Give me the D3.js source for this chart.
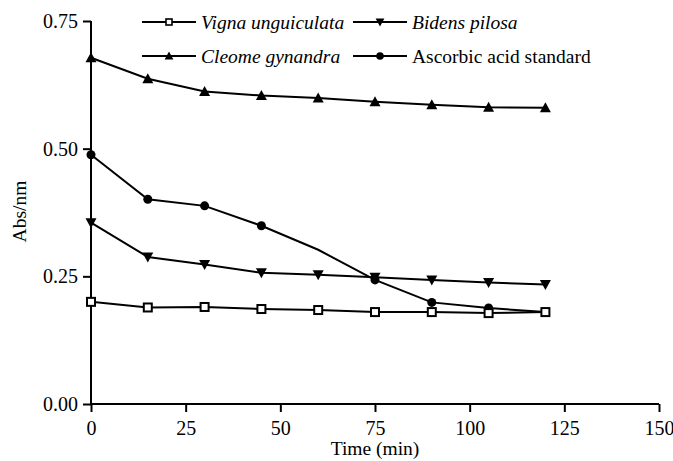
<!DOCTYPE html>
<html>
<head>
<meta charset="utf-8">
<script src="https://cdn.jsdelivr.net/npm/d3@7"></script>
<style>
  body { margin: 0; background: #fff; }
</style>
</head>
<body>
<div id="chart-area"></div>
<script>
const times = [0, 15, 30, 45, 60, 75, 90, 105, 120];
const vigna = [0.200, 0.189, 0.190, 0.186, 0.184, 0.180, 0.180, 0.178, 0.180];
const bidens = [0.355, 0.288, 0.273, 0.257, 0.253, 0.248, 0.243, 0.238, 0.234];
const cleome = [0.678, 0.637, 0.612, 0.604, 0.599, 0.592, 0.586, 0.581, 0.580];
const ascorbic = [0.488, 0.401, 0.388, 0.349, 0.302, 0.243, 0.199, 0.188, 0.180];
const xTicks = [0, 25, 50, 75, 100, 125, 150];
const yTicks = [0, 0.25, 0.5, 0.75];

const FONT = '"Liberation Serif", "Times New Roman", Times, "DejaVu Serif", serif';

const series = [
  {name: 'Vigna unguiculata', values: vigna, marker: 'square', italic: true},
  {name: 'Bidens pilosa', values: bidens, marker: 'down', italic: true},
  {name: 'Cleome gynandra', values: cleome, marker: 'up', italic: true},
  {name: 'Ascorbic acid standard', values: ascorbic, marker: 'circle', italic: false}
];

const margin = {left: 91, right: 14, top: 21, bottom: 57};
const width = 673 - margin.left - margin.right,
    height = 461 - margin.top - margin.bottom;

const svg = d3.select('#chart-area')
    .append('svg')
    .attr('width', 673)
    .attr('height', 461);

const g = svg.append('g')
    .attr('transform', 'translate(' + margin.left + ', ' + margin.top + ')');

const xScale = d3.scaleLinear().domain([0, 150]).range([0, width]);
const yScale = d3.scaleLinear().domain([0, 0.75]).range([height, 0]);

const xAxis = g.append('g')
    .attr('transform', 'translate(0, ' + height + ')')
    .call(d3.axisBottom(xScale).tickValues(xTicks).tickSize(8).tickPadding(9).tickFormat(d3.format('d')));

const yAxis = g.append('g')
    .call(d3.axisLeft(yScale).tickValues(yTicks).tickSize(8).tickPadding(5).tickFormat(d3.format('.2f')));

[xAxis, yAxis].forEach((a) => {
  a.attr('font-family', null);
  a.select('.domain').attr('stroke', '#000').attr('stroke-width', 2);
  a.selectAll('.tick line').attr('stroke', '#000').attr('stroke-width', 2);
  a.selectAll('.tick text')
      .style('font-family', FONT)
      .style('font-size', '20px')
      .attr('fill', '#000');
});
// axes are drawn without the outer end ticks
xAxis.select('.domain').attr('d', 'M0,0H' + width);
yAxis.select('.domain').attr('d', 'M0,' + height + 'V0');

g.append('text')
    .text('Time (min)')
    .attr('x', xScale(75))
    .attr('y', height + 51)
    .attr('text-anchor', 'middle')
    .style('font-family', FONT)
    .style('font-size', '19.5px');

g.append('text')
    .text('Abs/nm')
    .attr('x', -yScale(0.375) + 1)
    .attr('y', -65)
    .attr('text-anchor', 'middle')
    .style('font-family', FONT)
    .style('font-size', '19.5px')
    .attr('transform', 'rotate(-90)');

const line = d3.line()
    .x((d, i) => xScale(times[i]))
    .y((d) => yScale(d));

function drawMarker(sel, type) {
  if (type === 'square') {
    sel.append('rect')
        .attr('x', -4).attr('y', -4).attr('width', 8).attr('height', 8)
        .attr('fill', '#fff').attr('stroke', '#000').attr('stroke-width', 2);
  } else if (type === 'circle') {
    sel.append('circle').attr('r', 4.5).attr('fill', '#000');
  } else if (type === 'up') {
    sel.append('path').attr('d', 'M0,-5.5L5.5,4.5L-5.5,4.5Z').attr('fill', '#000');
  } else {
    sel.append('path').attr('d', 'M0,5.5L5.5,-4.5L-5.5,-4.5Z').attr('fill', '#000');
  }
}

// draw order: Vigna last so its open squares sit on top
const drawOrder = [series[2], series[3], series[1], series[0]];
drawOrder.forEach((s) => {
  g.append('path')
      .datum(s.values)
      .attr('d', line)
      .attr('fill', 'none')
      .attr('stroke', '#000')
      .attr('stroke-width', 2);

  const pts = s.values.map((v, i) => ({t: times[i], v: v}))
      .filter((d) => !(s.marker === 'circle' && d.t === 60));

  g.selectAll(null)
      .data(pts)
      .enter()
      .append('g')
      .attr('transform', (d) => 'translate(' + xScale(d.t) + ',' + yScale(d.v) + ')')
      .each(function () { drawMarker(d3.select(this), s.marker); });
});

// legend, two columns by two rows
const legendPos = [[142, 22], [353, 22], [142, 56], [353, 56]];
series.forEach((s, i) => {
  const lg = svg.append('g')
      .attr('transform', 'translate(' + legendPos[i][0] + ',' + legendPos[i][1] + ')');
  lg.append('line')
      .attr('x1', 0).attr('x2', 54).attr('y1', 0).attr('y2', 0)
      .attr('stroke', '#000').attr('stroke-width', 2);
  const m = lg.append('g').attr('transform', 'translate(27,0)');
  drawMarker(m, s.marker);
  m.selectAll('rect').attr('x', -3).attr('y', -3).attr('width', 6).attr('height', 6).attr('stroke-width', 1.6);
  m.selectAll('circle').attr('r', 3.8);
  m.selectAll('path').attr('transform', 'scale(0.8)');
  lg.append('text')
      .text(s.name)
      .attr('x', 59)
      .attr('y', 6.5)
      .style('font-family', FONT)
      .style('font-size', '19.5px')
      .style('font-style', s.italic ? 'italic' : 'normal');
});
</script>
</body>
</html>
